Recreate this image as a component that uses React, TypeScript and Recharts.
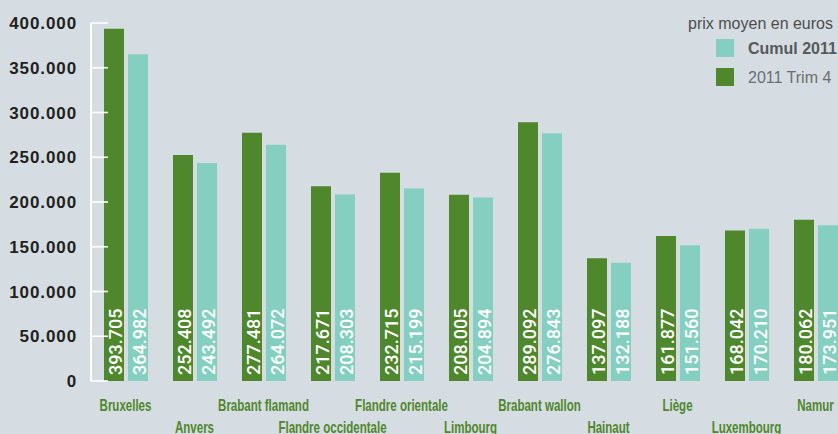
import React from 'react';
import { BarChart, Bar, XAxis, YAxis, LabelList, Legend } from 'recharts';

const categories = ['Bruxelles', 'Anvers', 'Brabant flamand', 'Flandre occidentale', 'Flandre orientale', 'Limbourg', 'Brabant wallon', 'Hainaut', 'Liège', 'Luxembourg', 'Namur'];
const trim4 = [393705, 252408, 277481, 217671, 232715, 208005, 289092, 137097, 161877, 168042, 180062];
const cumul = [364982, 243492, 264072, 208303, 215199, 204894, 276843, 132188, 151560, 170210, 173951];
const yTicks = [0, 50000, 100000, 150000, 200000, 250000, 300000, 350000, 400000];
const legendTitle = 'prix moyen en euros';
const seriesNames = { trim4: '2011 Trim 4', cumul: 'Cumul 2011' };

const data = categories.map((c, i) => ({ name: c, trim4: trim4[i], cumul: cumul[i] }));

const GREEN = '#4f872c';
const TEAL = '#84cfc0';
const BG = '#d5dde2';

const fmt = (n: number) => String(n).replace(/\B(?=(\d{3})+(?!\d))/g, '.');

const YTick = (props: any) => {
  const { x, y, payload } = props;
  return (
    <g>
      <line x1={x} x2={x + 17} y1={y} y2={y} stroke="#ffffff" strokeWidth={1.6} />
      <text x={x - 14} y={y} dy="0.36em" textAnchor="end" fill="#231f20" fontFamily="'Liberation Sans', Arial, sans-serif" fontWeight="bold" fontSize={17} letterSpacing={0.9}>
        {fmt(payload.value)}
      </text>
    </g>
  );
};

const XTick = (props: any) => {
  const { x, y, payload, index } = props;
  const dy = index % 2 === 0 ? 30 : 52;
  return (
    <g transform={`translate(${x}, ${y + dy}) scale(0.72, 1)`}>
      <text x={0} y={0} textAnchor="middle" fill={GREEN} fontFamily="'Liberation Sans', Arial, sans-serif" fontWeight="bold" fontSize={16}>
        {payload.value}
      </text>
    </g>
  );
};

const ValueLabel = (props: any) => {
  const { x, y, width, height, value } = props;
  const cx = x + width / 2 + 1;
  const cy = y + height - 6;
  return (
    <text x={cx} y={cy} transform={`rotate(-90, ${cx}, ${cy})`} textAnchor="start" dominantBaseline="central" fill="#ffffff" fontFamily="Roboto, 'Liberation Sans', Arial, sans-serif" fontSize={18} fontWeight={500}>
      {fmt(value)}
    </text>
  );
};

const LegendContent = (props: any) => {
  const items = [...(props.payload || [])].reverse();
  return (
    <svg width={838} height={100} style={{ display: 'block' }}>
      <text x={833} y={29} textAnchor="end" fill="#4d4d4f" fontFamily="'Liberation Sans', Arial, sans-serif" fontSize={16}>
        {legendTitle}
      </text>
      {items.map((it: any, i: number) => (
        <g key={i}>
          <rect x={716} y={39 + i * 29} width={18} height={18} fill={it.color} />
          <text x={748} y={54 + i * 29} fill={i === 0 ? '#58595b' : '#6d6e70'} fontFamily="'Liberation Sans', Arial, sans-serif" fontSize={16} fontWeight={i === 0 ? 'bold' : 'normal'}>
            {it.value}
          </text>
        </g>
      ))}
    </svg>
  );
};

export default function App() {
  return (
    <div style={{ position: 'absolute', left: 0, top: 0, width: 838, height: 434, overflow: 'hidden', background: BG }}>
      <BarChart width={860} height={434} data={data} margin={{ top: 23, right: 10, bottom: 0, left: 0 }} barGap={4} barSize={20}>
        <XAxis dataKey="name" axisLine={false} tickLine={false} tickSize={0} tickMargin={0} height={53} interval={0} tick={<XTick />} />
        <YAxis domain={[0, 400000]} ticks={yTicks} width={91} tickSize={0} tickMargin={0} tickLine={false} axisLine={{ stroke: '#ffffff', strokeWidth: 2 }} tick={<YTick />} interval={0} />
        <Legend layout="vertical" align="center" verticalAlign="middle" wrapperStyle={{ position: 'absolute', left: 0, top: 0, width: 838, height: 100 }} content={<LegendContent />} />
        <Bar dataKey="trim4" name={seriesNames.trim4} fill={GREEN} isAnimationActive={false}>
          <LabelList dataKey="trim4" content={<ValueLabel />} />
        </Bar>
        <Bar dataKey="cumul" name={seriesNames.cumul} fill={TEAL} isAnimationActive={false}>
          <LabelList dataKey="cumul" content={<ValueLabel />} />
        </Bar>
      </BarChart>
    </div>
  );
}
